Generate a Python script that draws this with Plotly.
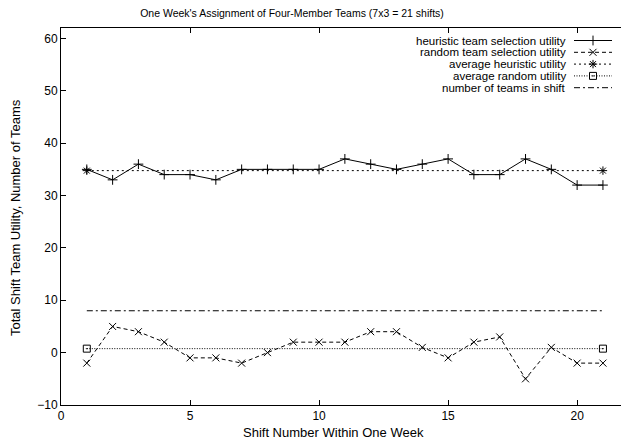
import plotly.graph_objects as go

shifts = list(range(1, 22))
heuristic = [35, 33, 36, 34, 34, 33, 35, 35, 35, 35, 37, 36, 35, 36, 37, 34, 34, 37, 35, 32, 32]
random_sel = [-2, 5, 4, 2, -1, -1, -2, 0, 2, 2, 2, 4, 4, 1, -1, 2, 3, -5, 1, -2, -2]
teams = [8] * 21

avg_h = sum(heuristic) / len(heuristic)
avg_r = sum(random_sel) / len(random_sel)
avg_x = [shifts[0], shifts[-1]]

FONT = "Liberation Sans, Arial, sans-serif"
W, H = 621, 448
L, R, T, B = 61, 0, 28, 43
PW, PH = W - L - R, H - T - B


def px(xp):
    return (xp - L) / PW


def py(yp):
    return (H - B - yp) / PH


series = [
    dict(name="heuristic team selection utility", dash="solid", symbol="cross-thin-open", size=7),
    dict(name="random team selection utility", dash="4px,3px", symbol="x-thin-open", size=7),
    dict(name="average heuristic utility", dash="2px,3px", symbol="asterisk-open", size=7),
    dict(name="average random utility", dash="1px,1.5px", symbol="square-open-dot", size=7),
    dict(name="number of teams in shift", dash="6px,3px,2px,3px", symbol=None, size=0),
]
data_x = [shifts, shifts, avg_x, avg_x, shifts]
data_y = [heuristic, random_sel, [avg_h, avg_h], [avg_r, avg_r], teams]

fig = go.Figure()
for s, xs, ys in zip(series, data_x, data_y):
    mode = "lines+markers" if s["symbol"] else "lines"
    fig.add_trace(go.Scatter(
        x=xs, y=ys, mode=mode, name=s["name"], showlegend=False,
        line=dict(color="black", width=1, dash=s["dash"]),
        marker=dict(symbol=s["symbol"] or "circle", size=s["size"],
                    color="black", line=dict(color="black", width=1)),
    ))

# custom gnuplot-style legend (text right aligned, sample on right), pixel layout axes
LEG_TEXT_X = 568
LEG_S0, LEG_S1 = 574, 612
LEG_Y0, LEG_DY = 40.5, 11.8
for i, s in enumerate(series):
    yy = LEG_Y0 + i * LEG_DY
    fig.add_trace(go.Scatter(
        x=[LEG_S0, LEG_S1], y=[yy, yy], mode="lines", xaxis="x2", yaxis="y2",
        showlegend=False, hoverinfo="skip",
        line=dict(color="black", width=1, dash=s["dash"]),
    ))
    if s["symbol"]:
        fig.add_trace(go.Scatter(
            x=[(LEG_S0 + LEG_S1) / 2], y=[yy], mode="markers", xaxis="x2", yaxis="y2",
            showlegend=False, hoverinfo="skip",
            marker=dict(symbol=s["symbol"], size=s["size"], color="black",
                        line=dict(color="black", width=1)),
        ))
    fig.add_annotation(x=px(LEG_TEXT_X), y=py(yy), xref="paper", yref="paper", text=s["name"],
                       showarrow=False, xanchor="right", yanchor="middle",
                       font=dict(family=FONT, size=11.5, color="black"))

# axis titles placed as annotations
fig.add_annotation(x=px(333), y=py(432), xref="paper", yref="paper",
                   text="Shift Number Within One Week",
                   showarrow=False, xanchor="center", yanchor="middle",
                   font=dict(family=FONT, size=13, color="black"))
fig.add_annotation(x=px(15), y=py(218), xref="paper", yref="paper",
                   text="Total Shift Team Utility, Number of Teams", textangle=-90,
                   showarrow=False, xanchor="center", yanchor="middle",
                   font=dict(family=FONT, size=13, color="black"))

fig.update_layout(
    width=W, height=H,
    margin=dict(l=L, r=R, t=T, b=B),
    paper_bgcolor="white", plot_bgcolor="white",
    font=dict(family=FONT, size=12, color="black"),
    title=dict(text="One Week's Assignment of Four-Member Teams (7x3 = 21 shifts)",
               x=292 / W, xanchor="center", y=1 - 13 / H, yanchor="middle",
               font=dict(family=FONT, size=10.5)),
    xaxis=dict(range=[0, 21.7], tickvals=[0, 5, 10, 15, 20], ticks="inside", ticklen=5,
               showline=True, linecolor="black", linewidth=1, mirror="ticks",
               showgrid=False, zeroline=False, tickcolor="black", automargin=False,
               tickfont=dict(family=FONT, size=12)),
    yaxis=dict(range=[-10, 62], tickvals=[-10, 0, 10, 20, 30, 40, 50, 60], ticks="inside",
               ticklen=5, showline=True, linecolor="black", linewidth=1, mirror=False,
               showgrid=False, zeroline=False, tickcolor="black", automargin=False,
               tickfont=dict(family=FONT, size=12)),
    xaxis2=dict(range=[L, W - R], overlaying="x", anchor="y2", visible=False),
    yaxis2=dict(range=[H - B, T], overlaying="y", anchor="x2", visible=False),
)

fig.write_html("out.html", config={"displayModeBar": False},
               post_script="document.body.style.margin='0';document.body.style.padding='0';")
